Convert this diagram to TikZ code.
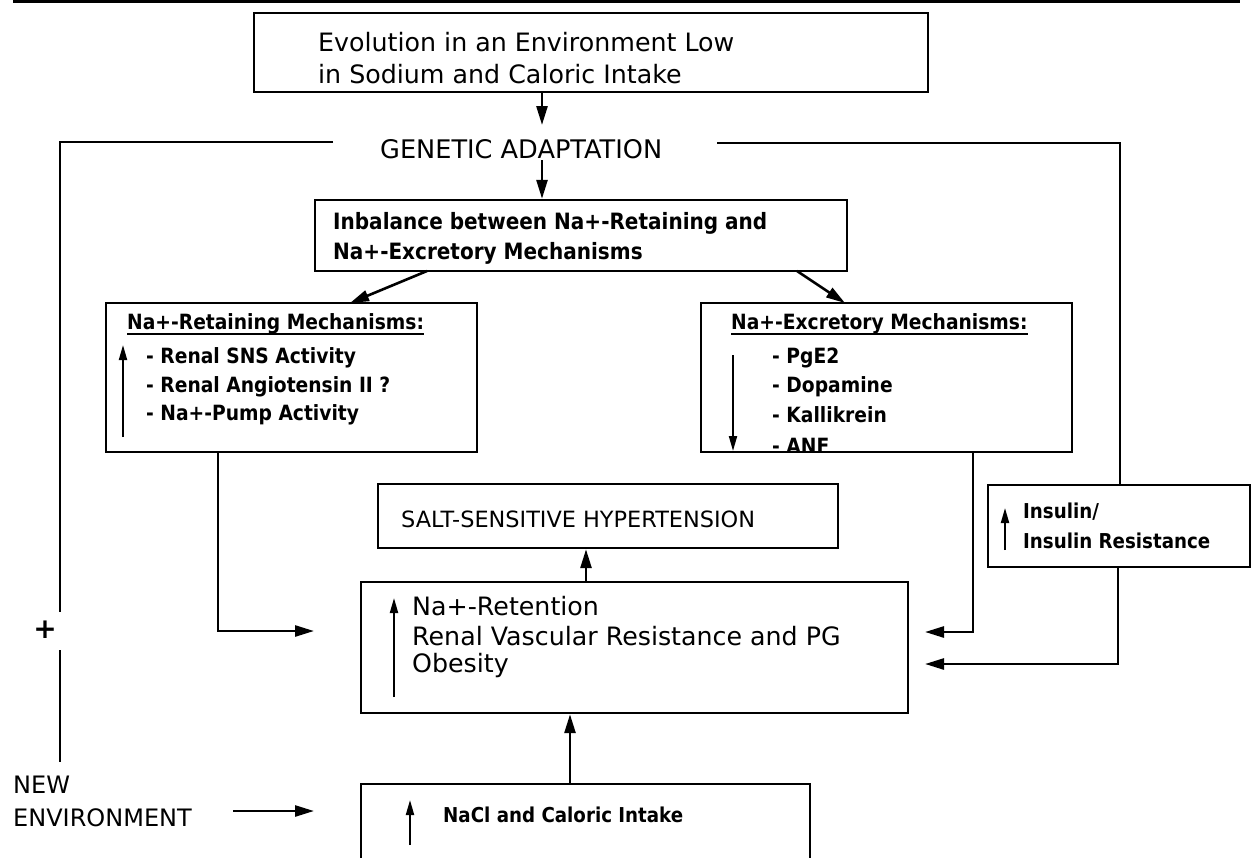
\documentclass[tikz,border=0pt]{standalone}
\usepackage{fontspec}
\setmainfont{DejaVu Sans}
\newfontfamily\condbf[FakeStretch=0.89]{DejaVu Sans}
\usetikzlibrary{arrows.meta}
\tikzset{
  box/.style={draw, line width=2.4pt, inner sep=0pt},
  conn/.style={line width=2.6pt, -{Triangle[length=19pt,width=11pt]}},
  plain/.style={line width=2.6pt},
  upar/.style={line width=2pt, -{Triangle[length=15pt,width=8pt]}},
  uline/.style={line width=1.8pt},
  txt/.style={anchor=west, inner sep=0pt},
  big/.style={txt, font=\fontsize{25.3}{30}\selectfont},
  captxt/.style={txt, font=\fontsize{22.4}{27}\selectfont},
  bld/.style={txt, font=\condbf\bfseries\fontsize{21}{25}\selectfont},
  ttl/.style={txt, font=\condbf\bfseries\fontsize{21}{25}\selectfont},
  sml/.style={txt, font=\condbf\bfseries\fontsize{20.5}{24}\selectfont},
  inbtxt/.style={txt, font=\condbf\bfseries\fontsize{22.5}{26}\selectfont},
}
\begin{document}
\begin{tikzpicture}[x=1pt,y=-1pt]
\clip (0,0) rectangle (1253,857);
\fill[white] (0,0) rectangle (1253,857);
% cut-off title rule at the top
\coordinate (tl) at (13,1.5);
\coordinate (tr) at (1240,1.5);
\draw[line width=3pt] (tl) -- (tr);

% boxes
\node[box, minimum width=674, minimum height=79] (b1) at (591,52.5) {};
\node[box, minimum width=532, minimum height=71] (inb) at (581,235.5) {};
\node[box, minimum width=371, minimum height=149] (ret) at (291.5,377.5) {};
\node[box, minimum width=371, minimum height=149] (exc) at (886.5,377.5) {};
\node[box, minimum width=460, minimum height=64] (salt) at (608,516) {};
\node[box, minimum width=262, minimum height=82] (ins) at (1119,526) {};
\node[box, minimum width=547, minimum height=131] (cen) at (634.5,647.5) {};
\node[box, minimum width=449, minimum height=92] (nacl) at (585.5,830) {};

% texts
\node[big] (t1a) at (318,42) {Evolution in an Environment Low};
\node[big] (t1b) at (318,74) {in Sodium and Caloric Intake};
\node[txt, font=\fontsize{25.6}{30}\selectfont] (gen) at (380,149) {GENETIC ADAPTATION};
\node[inbtxt] (inba) at (333,223) {Inbalance between Na+-Retaining and};
\node[inbtxt] (inbb) at (333,253) {Na+-Excretory Mechanisms};

\node[ttl] (rt) at (127,324) {Na+-Retaining Mechanisms:};
\draw[uline] ([yshift=-4pt]rt.base west) -- ([yshift=-4pt]rt.base east);
\node[bld] (r1) at (146,358) {- Renal SNS Activity};
\node[bld] (r2) at (146,387) {- Renal Angiotensin II ?};
\node[bld] (r3) at (146,415) {- Na+-Pump Activity};

\node[ttl] (et) at (731,324) {Na+-Excretory Mechanisms:};
\draw[uline] ([yshift=-4pt]et.base west) -- ([yshift=-4pt]et.base east);
\node[bld] (e1) at (772,358) {- PgE2};
\node[bld] (e2) at (772,387) {- Dopamine};
\node[bld] (e3) at (772,415) {- Kallikrein};
\node[bld] (e4) at (772,446) {- ANF};

\node[captxt] (st) at (401,519) {SALT-SENSITIVE HYPERTENSION};
\node[sml] (i1) at (1023,512) {Insulin/};
\node[sml] (i2) at (1023,541) {Insulin Resistance};

\node[big] (c1) at (412,606) {Na+-Retention};
\node[big] (c2) at (412,636) {Renal Vascular Resistance and PG};
\node[big] (c3) at (412,666) {Obesity};

\node[txt, font=\fontsize{24}{28}\selectfont] (ne1) at (13,785) {NEW};
\node[txt, font=\fontsize{24}{28}\selectfont] (ne2) at (13,818) {ENVIRONMENT};
\node[sml] (nt) at (443,815) {NaCl and Caloric Intake};
\node[txt, anchor=center, font=\bfseries\fontsize{28}{30}\selectfont] (plus) at (45,630) {+};

% main vertical flow
\coordinate (ax) at (542,0);
\draw[conn] (b1.south -| ax) -- (542,125) coordinate (g1);
\draw[conn] (542,160) coordinate (g2) -- (inb.north -| ax);
\draw[conn] (427,271) coordinate (il) -- (350,303) coordinate (rl);
\draw[conn] (797,271) coordinate (ir) -- (845,303) coordinate (er);
\draw[conn] (cen.north -| 586,0) -- (salt.south -| 586,0);
\draw[conn] (nacl.north -| 570,0) -- (cen.south -| 570,0);

% feedback loop on the left
\coordinate (ll1) at (333,142);
\coordinate (ll2) at (60,142);
\coordinate (ll3) at (60,612);
\coordinate (ll4) at (60,650);
\coordinate (ll5) at (60,762);
\draw[plain] (ll1) -- (ll2) -- (ll3);
\draw[plain] (ll4) -- (ll5);
% line on the right
\coordinate (rl1) at (717,143);
\draw[plain] (rl1) -| (ins.north -| 1120,0);

% connectors into the centre box
\coordinate (rx) at (218,631);
\draw[conn] (ret.south -| rx) -- (rx) -- (314,631);
\coordinate (ex) at (973,632);
\draw[conn] (exc.south -| ex) -- (ex) -- (925,632);
\coordinate (ix) at (1118,664);
\draw[conn] (ins.south -| ix) -- (ix) -- (925,664);
\draw[conn] (233,811) coordinate (nea) -- (314,811);

% small up/down arrows inside boxes
\draw[upar] (123,437) coordinate (ra) -- (123,345);
\draw[upar] (733,355) coordinate (ea) -- (733,451);
\draw[upar] (1005,550) coordinate (ia) -- (1005,508);
\draw[upar] (394,697) coordinate (ca) -- (394,598);
\draw[upar] (410,845) coordinate (na) -- (410,800);
\end{tikzpicture}
\end{document}
